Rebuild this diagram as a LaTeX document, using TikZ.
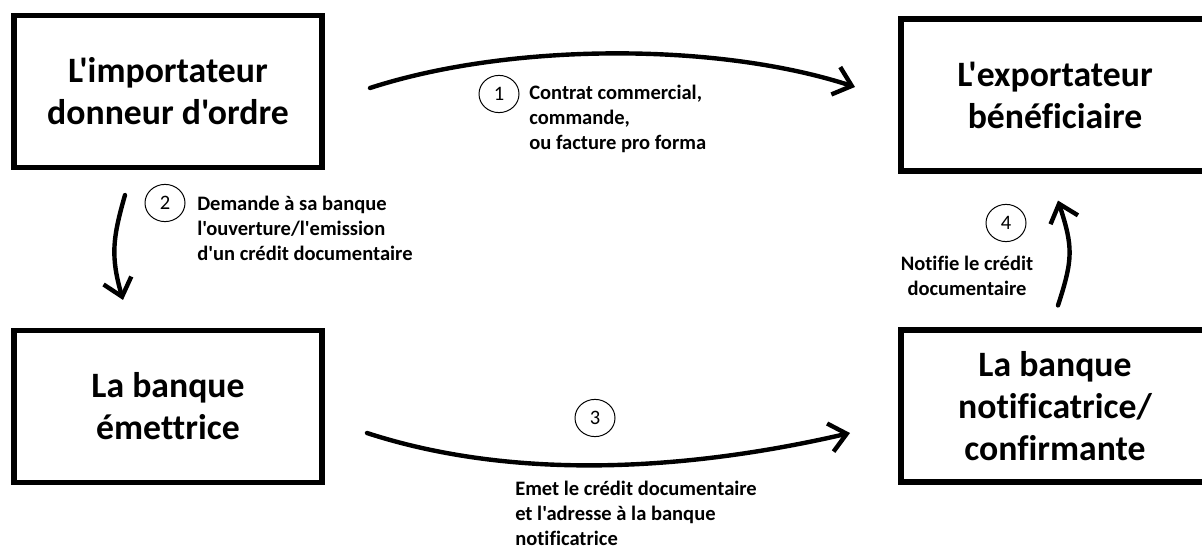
\documentclass[tikz,border=0pt]{standalone}
\usepackage{fontspec}
\setmainfont{Carlito}[Ligatures={TeXOff,NoCommon}]
\usetikzlibrary{arrows.meta,shapes.geometric}

\begin{document}
\begin{tikzpicture}[x=0.025cm,y=-0.025cm,
  box/.style={draw,rectangle,line width=0.1375cm,minimum width=7.71cm,minimum height=3.79cm,align=center,font=\fontsize{25.4}{29.9}\selectfont\bfseries},
  num/.style={draw,ellipse,line width=0.7pt,minimum width=1cm,minimum height=0.93cm,inner sep=0pt,font=\fontsize{14.6}{17.8}\selectfont},
  lbl/.style={inner sep=0pt,font=\fontsize{14.6}{17.8}\selectfont\bfseries},
  arr/.style={line width=0.11cm,line cap=round,line join=round,-{Straight Barb[length=0.42cm,width=0.72cm]}}]
\useasboundingbox (0,0) rectangle (1202,550);

\node [box] (imp) at(168,91.5){L'importateur\\donneur d'ordre};
\node [box] (exp) at(1055,95){L'exportateur\\bénéficiaire};
\node [box] (emi) at(168,406.5){La banque\\émettrice};
\node [box] (notif) at(1055,406){La banque\\notificatrice/\\confirmante};

\node [num] (n1) at(499,94){1};
\node [num] (n2) at(165,203){2};
\node [num] (n3) at(595,418){3};
\node [num] (n4) at(1006,223){4};

\node [lbl,anchor=north west,align=left] (t1) at(529,84.5){Contrat commercial,\\commande,\\ou facture pro forma};
\node [lbl,anchor=north west,align=left] (t2) at(197,195.5){Demande à sa banque\\l'ouverture/l'emission\\d'un crédit documentaire};
\node [lbl,anchor=north west,align=left] (t3) at(515,481){Emet le crédit documentaire\\et l'adresse à la banque\\notificatrice};
\node [lbl,anchor=north,align=center] (t4) at(967,255.5){Notifie le crédit\\documentaire};

\draw[arr]([xshift=1.125cm,yshift=0.0875cm]imp.east) to[out=18,in=162,looseness=0.77] ([xshift=-1.075cm,yshift=0.2cm]exp.west);
\draw[arr]([xshift=-1.075cm,yshift=-0.625cm]imp.south) to[out=254,in=106,looseness=1.1] ([xshift=-1.125cm,yshift=0.7cm]emi.north);
\draw[arr]([xshift=1.05cm,yshift=-0.6625cm]emi.east) to[out=-18,in=193,looseness=0.85] ([xshift=-1.2cm,yshift=-0.675cm]notif.west);
\draw[arr]([xshift=0.075cm,yshift=0.55cm]notif.north) to[out=72,in=-72,looseness=1.2] ([xshift=0.075cm,yshift=-0.675cm]exp.south);

\end{tikzpicture}
\end{document}
